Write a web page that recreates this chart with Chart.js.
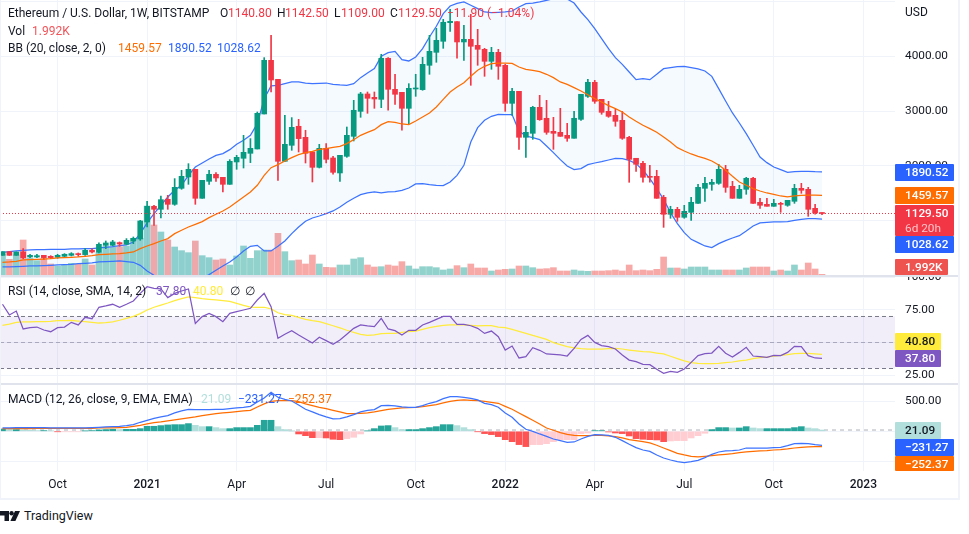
<!DOCTYPE html>
<html><head><meta charset="utf-8">
<script src="https://cdn.jsdelivr.net/npm/chart.js@4"></script>
<style>
html,body{margin:0;padding:0;background:#fff;overflow:hidden}
#wrap{position:absolute;left:0;top:0;width:969px;height:534px;font-family:Roboto,sans-serif;color:#131722}
canvas{position:absolute;left:0}
.t{position:absolute;white-space:nowrap;font-size:12px;line-height:14px;z-index:5}
.tag{position:absolute;left:895px;width:59px;font-size:11.8px;font-weight:500;color:#fff;z-index:6;box-sizing:border-box;padding-left:10px;border-radius:1px;white-space:nowrap;overflow:hidden}
.rule{position:absolute;background:#e0e3eb;z-index:4}
.frame{position:absolute;background:#f0f3fa;z-index:4}
</style></head><body>
<div id="wrap">
<canvas id="cMain" style="top:0" width="959" height="275"></canvas>
<canvas id="cRsi" style="top:277px" width="959" height="106"></canvas>
<canvas id="cMacd" style="top:385px" width="959" height="114"></canvas>

<div class="rule" style="left:0;top:275px;width:958px;height:2px"></div>
<div class="rule" style="left:0;top:383px;width:958px;height:2px"></div>
<div class="frame" style="left:0;top:498px;width:960px;height:2px"></div>
<div class="frame" style="left:958px;top:0;width:2px;height:500px"></div>
<div class="frame" style="left:0;top:0;width:1px;height:500px"></div>

<span class="t" style="left:8px;top:6px">Ethereum / U.S. Dollar, 1W, BITSTAMP</span>
<span class="t" style="left:220px;top:6px">O</span><span class="t" style="left:228px;top:6px;color:#f23645">1140.80</span>
<span class="t" style="left:277px;top:6px">H</span><span class="t" style="left:285px;top:6px;color:#f23645">1142.50</span>
<span class="t" style="left:334px;top:6px">L</span><span class="t" style="left:341px;top:6px;color:#f23645">1109.00</span>
<span class="t" style="left:390px;top:6px">C</span><span class="t" style="left:398px;top:6px;color:#f23645">1129.50</span>
<span class="t" style="left:447px;top:6px;color:#f23645">−11.90 (−1.04%)</span>
<span class="t" style="left:8px;top:24px">Vol</span><span class="t" style="left:32px;top:24px;color:#f0555a">1.992K</span>
<span class="t" style="left:8px;top:41px">BB (20, close, 2, 0)</span>
<span class="t" style="left:118px;top:41px;color:#ff6d00">1459.57</span>
<span class="t" style="left:168px;top:41px;color:#2962ff">1890.52</span>
<span class="t" style="left:217px;top:41px;color:#2962ff">1028.62</span>
<span class="t" style="left:905px;top:5px">USD</span>

<span class="t" style="left:8px;top:284px">RSI (14, close, SMA, 14, 2)</span>
<span class="t" style="left:156px;top:284px;color:#7e57c2">37.80</span>
<span class="t" style="left:193px;top:284px;color:#ffeb3b">40.80</span>
<span class="t" style="left:230px;top:284px">∅</span><span class="t" style="left:245px;top:284px">∅</span>

<span class="t" style="left:8px;top:392px">MACD (12, 26, close, 9, EMA, EMA)</span>
<span class="t" style="left:201px;top:392px;color:#b2dfdb">21.09</span>
<span class="t" style="left:238px;top:392px;color:#2962ff">−231.27</span>
<span class="t" style="left:288px;top:392px;color:#ff6d00">−252.37</span>

<div class="tag" style="top:164px;height:17px;line-height:17px;background:#2962ff">1890.52</div>
<div class="tag" style="top:187px;height:17px;line-height:17px;background:#ff6d00">1459.57</div>
<div class="tag" style="top:205px;height:31px;line-height:15px;background:#f23645;padding-top:1px">1129.50<br><span style="opacity:.7;font-weight:400">6d 20h</span></div>
<div class="tag" style="top:236px;height:17px;line-height:17px;background:#2962ff">1028.62</div>
<div class="tag" style="top:259px;height:16px;line-height:16px;background:#ef5350;width:53px">1.992K</div>
<div class="tag" style="top:333px;height:17px;line-height:17px;background:#ffeb3b;color:#131722;width:46px">40.80</div>
<div class="tag" style="top:350px;height:17px;line-height:17px;background:#7e57c2;width:46px">37.80</div>
<div class="tag" style="top:422px;height:17px;line-height:17px;background:#b2dfdb;color:#131722;width:46px">21.09</div>
<div class="tag" style="top:439px;height:17px;line-height:17px;background:#2962ff">−231.27</div>
<div class="tag" style="top:456px;height:15px;line-height:16px;background:#ff6d00">−252.37</div>

<svg style="position:absolute;left:0;top:511px" width="20" height="11" viewBox="0 0 20 11"><path d="M0 0H9V10H4.5V4.5H0Z" fill="#131722"/><circle cx="11.6" cy="2.2" r="2.2" fill="#131722"/><path d="M15 0H20L15.4 10H10.4Z" fill="#131722"/></svg>
<span class="t" style="left:24px;top:508px;font-size:12.5px;line-height:16px;color:#131722">TradingView</span>
</div>
<script>
const opens=[366,433,366,427,336,336,366,348,330,348,366,397,379,458,421,549,549,598,567,628,665,975,1261,1206,1388,1297,1589,1796,1936,1407,1717,1845,1790,1662,2070,2137,2228,2307,2946,3925,3578,2082,2374,2721,2520,2252,1972,2319,2143,1869,2173,2538,2994,3311,3250,3213,3962,3396,3341,3049,3402,3390,3834,4071,4272,4612,4631,4260,4308,4199,4126,3907,4071,3834,3140,3359,2520,2593,3067,2867,2629,2611,2556,2502,2848,3268,3524,3213,2994,2921,2830,2520,2137,2045,1808,1808,1425,1115,1206,1060,1151,1315,1589,1662,1680,1936,1626,1407,1571,1772,1334,1297,1261,1315,1279,1352,1589,1571,1224,1140.8];
const closes=[433,366,427,324,366,360,324,324,366,385,397,379,458,427,567,592,610,573,640,677,993,1261,1206,1382,1297,1607,1808,1936,1407,1735,1845,1778,1662,2082,2155,2246,2319,2958,3925,3566,2082,2392,2702,2496,2228,1972,2319,2118,1881,2191,2556,3013,3311,3232,3219,3962,3396,3305,3049,3414,3414,3852,4089,4290,4619,4637,4260,4308,4181,4126,3907,4071,3816,3140,3359,2520,2611,3067,2842,2611,2593,2538,2502,2867,3305,3524,3177,2976,2903,2812,2502,2118,2027,1790,1790,1407,1115,1206,1060,1169,1334,1607,1680,1699,1936,1607,1407,1571,1772,1315,1279,1261,1315,1297,1370,1589,1553,1206,1141,1129.5];
const highs=[433,435,430,488,385,385,366,360,385,397,415,409,488,488,592,628,640,610,671,701,1005,1352,1279,1449,1461,1766,1918,2039,1936,1735,1918,1875,1790,2112,2191,2556,2496,2982,3974,4381,3578,2921,2879,2848,2648,2252,2392,2404,2173,2191,2708,3195,3341,3347,3347,4035,3974,3670,3341,3499,3670,3980,4381,4509,4673,4856,4631,4564,4765,4491,4144,4162,4126,3852,3414,3359,2721,3086,3286,3195,2885,3049,2775,2994,3305,3578,3560,3213,3177,3031,2994,2538,2137,2082,2009,1918,1461,1261,1242,1279,1425,1662,1790,1753,2027,2009,1717,1644,1790,1790,1407,1407,1388,1334,1370,1662,1680,1607,1297,1142.5];
const lows=[366,365,365,306,324,324,287,306,312,336,354,348,366,409,409,488,537,531,561,579,640,884,914,1048,1206,1279,1571,1662,1297,1407,1662,1717,1522,1662,1936,1960,2058,2307,2946,3347,1735,2082,2283,2252,2051,1705,1960,2051,1845,1717,2155,2453,2885,2958,3049,3061,3013,3122,2648,2769,3268,3378,3670,3889,4144,4454,3962,3925,3469,3834,3633,3761,3578,2994,2921,2301,2155,2483,2830,2575,2301,2538,2447,2502,2830,3250,3140,2940,2885,2721,2483,1699,1899,1699,1699,1407,877,1042,987,1042,1005,1315,1352,1553,1662,1516,1407,1407,1480,1315,1224,1261,1261,1151,1261,1315,1498,1078,1115,1109];
const volumes=[63,47,60,105,50,43,50,33,27,30,35,33,48,30,67,87,83,85,87,110,110,207,150,129,105,84,73,67,102,58,52,45,48,30,57,87,50,73,75,75,125,70,43,45,33,60,33,23,22,30,30,48,52,30,24,25,30,27,40,27,18,25,25,22,15,18,28,22,33,21,21,12,15,17,18,27,27,22,18,19,22,12,12,15,12,11,12,12,13,15,12,30,13,15,13,17,54,21,21,18,24,24,24,15,15,15,15,15,21,24,24,24,12,15,12,30,15,36,18,1.992];
const bbUpper=[421,433,446,458,464,470,470,476,476,476,482,482,488,488,500,512,525,543,555,610,762,957,1127,1279,1431,1553,1644,1826,1978,2051,2124,2191,2222,2295,2392,2465,2556,2769,3226,3457,3469,3499,3530,3530,3511,3499,3505,3511,3487,3475,3469,3499,3609,3694,3773,3998,4065,4089,3937,3913,3986,4138,4351,4546,4777,4917,4965,4990,4929,4868,4807,4795,4801,4807,4825,4898,4959,4971,4990,5020,5050,5056,5044,4971,4807,4667,4503,4320,4138,3974,3852,3712,3572,3590,3572,3670,3773,3791,3809,3816,3791,3767,3730,3633,3408,3183,2964,2781,2587,2374,2161,2058,1978,1930,1881,1893,1899,1899,1893,1890.52];
const bbMiddle=[239,245,257,281,287,293,299,306,318,324,330,336,348,360,379,385,391,397,409,427,488,537,579,628,671,762,823,884,932,981,1054,1115,1176,1249,1340,1431,1522,1644,1826,1966,2021,2088,2149,2204,2240,2264,2301,2313,2337,2356,2404,2477,2556,2611,2660,2751,2806,2794,2763,2751,2818,2891,2964,3073,3213,3347,3438,3517,3633,3743,3816,3864,3876,3876,3870,3803,3761,3743,3718,3670,3609,3530,3487,3426,3365,3298,3226,3165,3098,3043,2982,2891,2812,2739,2678,2611,2526,2435,2331,2270,2216,2173,2137,2088,2015,1918,1808,1705,1644,1583,1540,1504,1480,1449,1431,1449,1461,1467,1467,1459.57];
const bbLower=[154,154,160,166,172,172,178,184,190,196,202,214,220,227,245,251,257,263,251,239,184,81,2,-59,-120,-151,-163,-151,-138,-59,14,93,172,245,336,446,531,549,446,446,531,628,762,884,987,1048,1084,1127,1176,1249,1334,1407,1474,1504,1522,1504,1522,1528,1553,1595,1668,1674,1656,1644,1638,1705,1826,2009,2435,2696,2830,2903,2940,2934,2934,2635,2544,2514,2477,2362,2240,2112,1997,1930,1948,2021,2051,2076,2106,2137,2131,2100,2039,1918,1766,1583,1388,1145,944,780,658,598,537,506,579,634,683,725,811,902,957,969,975,975,981,1005,1023,1035,1035,1028.62];
const rsi=[79.4,71.2,74.2,60.4,61.4,61.9,59.6,58.3,61.4,61.9,65.5,63.5,69.4,68.3,77.1,78.1,79.4,77.1,79.4,81.9,87.8,92.9,91.7,91.2,84.5,87.8,89.6,91.2,64.7,69.9,72.4,69.9,66,72.4,73.7,75,76.3,82.7,87.8,77.6,53.2,56.3,59.1,55.8,52.7,49.6,54,51.4,48.6,51.9,56.3,60.9,63.5,62.7,62.2,68.6,60.4,59.1,55.8,59.4,59.4,63.5,65.5,67.8,70.1,70.1,64,64,62.9,60.9,57,58.8,54.5,44.2,47.3,38.1,39.1,46,44,41.2,40.9,40.4,39.6,45.5,52.4,55.5,50.1,47.6,46.8,45,40.4,36.5,35.3,33.2,32.9,29.4,26.3,27.8,27.1,29.6,34.7,39.9,41.4,41.9,47.1,41.7,38.8,42.4,46.3,39.6,39.1,38.6,40.1,39.9,42.4,47.1,46.8,39.9,38.1,37.8];
const rsiMa=[63.2,64.2,65.5,65.8,65.8,66,66,66.3,66.8,66.8,67.1,66.5,66,65.5,65,65.3,65.8,67.1,68.6,70.1,72.2,75,77.1,78.8,80.4,82.2,83.7,85,84.5,83.7,83.2,82.7,82.2,81.7,80.1,78.6,77.3,77.1,77.1,75.8,72.9,71.4,70.9,69.4,67.8,66.8,66,64.5,62.9,61.2,59.4,57.8,56.3,55.5,55.8,56.8,57,57,57.8,58.3,58.8,60.1,61.4,62.4,63.2,63.5,63.5,63.5,63.2,62.7,63,63,61.9,61.4,60.1,58.6,57,55.5,54,52.4,49.9,48.3,46.8,45.8,45.3,45,45,45,45.3,45.5,45,44.2,43.5,42.9,42.7,41.9,41.2,39.4,37.6,35.8,34.5,34,33.7,33.7,34,34.5,35,35.8,36.5,37.6,38.3,38.8,39.6,40.1,40.6,41.4,41.7,41.7,41.2,40.8];
const macdLine=[55,55,61,61,61,61,61,55,55,55,55,55,55,61,66,72,77,83,94,110,149,182,215,237,259,303,336,364,358,358,358,364,364,375,386,397,413,485,551,645,562,529,501,435,364,320,276,237,204,209,237,276,320,347,358,424,430,419,402,397,397,424,463,490,540,573,573,562,545,518,463,441,397,303,231,121,33,0,-44,-83,-127,-154,-182,-176,-127,-83,-55,-61,-66,-99,-154,-215,-270,-309,-331,-391,-441,-474,-501,-518,-501,-479,-435,-380,-342,-325,-320,-309,-276,-276,-276,-276,-270,-264,-237,-204,-198,-204,-222,-231.27];
const signalLine=[44,44,44,44,44,50,50,50,50,50,50,50,50,50,55,55,55,61,66,83,99,121,143,154,171,187,204,220,237,259,276,292,303,314,325,336,347,402,452,496,507,507,507,490,452,424,397,375,347,320,292,292,298,303,320,342,364,375,386,391,397,408,424,441,468,496,512,518,512,507,496,479,463,413,364,303,242,182,121,55,17,-22,-50,-66,-72,-72,-66,-66,-77,-88,-110,-138,-154,-171,-193,-231,-276,-320,-364,-391,-413,-424,-413,-402,-391,-380,-369,-353,-342,-331,-325,-320,-309,-303,-292,-276,-264,-258,-255,-252.37];
const macdHist=[39,28,28,22,16,11,11,6,-6,-6,-6,-6,6,11,22,28,33,28,33,33,44,83,83,94,105,110,110,127,99,77,77,61,44,44,61,61,61,99,182,182,77,28,3,-44,-72,-105,-105,-110,-132,-138,-121,-99,-44,6,44,88,94,61,28,28,28,44,61,77,110,110,94,61,28,-6,-38,-55,-88,-138,-171,-220,-253,-220,-220,-204,-171,-138,-138,-138,-38,-28,11,11,-11,-28,-38,-77,-121,-132,-138,-143,-171,-160,-154,-154,-110,-72,-33,28,61,61,55,55,77,55,44,44,44,44,44,61,77,55,44,21.09];
const tickBars=[8,21,34,47,60,73,86,99,112,125];
const tickLabels=['Oct','2021','Apr','Jul','Oct','2022','Apr','Jul','Oct','2023'];
const priceTicks=[5000,4000,3000,2000,1000];
const rsiTicks=[100,75,50,25];
const macdTicks=[500,0,-500];
const lastPrice=1129.5, histLast=21.09, rsiLevels=[70,50,30];

const XMIN=-0.363, XMAX=129.6;
const UP='#089981', DOWN='#f23645', GRID='#f0f3fa';
const BLUE='#3d73ff', LW=1.25;
const idx=opens.map((_,i)=>i);
const pts=a=>a.map((y,i)=>({x:i,y}));
const span=y=>[{x:XMIN,y},{x:XMAX,y}];
const isUp=i=>closes[i]>=opens[i];
const axisFont={family:'Roboto',size:11.8};

function xAxis(showLabels){
  return {type:'linear',min:XMIN,max:XMAX,display:true,offset:false,
    grid:{color:GRID,drawTicks:false,offset:false},border:{display:false},
    afterBuildTicks:s=>{s.ticks=tickBars.map(v=>({value:v}));},
    afterFit:s=>{s.paddingLeft=s.paddingRight=s.paddingTop=s.paddingBottom=0;s.height=showLabels?28:0;},
    ticks:{display:showLabels,autoSkip:false,maxRotation:0,padding:7,color:'#131722',
      font:c=>({family:'Roboto',size:12,weight:/^20/.test(tickLabels[c.index]||'')?'500':'400'}),
      callback:(v,i)=>tickLabels[i]}};
}
function yAxis(min,max,values){
  return {position:'right',min,max,
    grid:{color:GRID,drawTicks:false},border:{display:false},
    afterBuildTicks:s=>{s.ticks=values.map(v=>({value:v}));},
    afterFit:s=>{s.width=64;s.paddingTop=s.paddingBottom=0;},
    ticks:{autoSkip:false,padding:10,color:'#131722',font:axisFont,
      callback:v=>v>=5000?'':v.toFixed(2)}};
}
function line(data,color,order,extra){
  return Object.assign({type:'line',data,borderColor:color,borderWidth:LW,pointRadius:0,tension:0,fill:false,order},extra||{});
}
const base={responsive:false,animation:false,events:[],
  layout:{padding:0},plugins:{legend:{display:false},tooltip:{enabled:false}}};

new Chart(document.getElementById('cMain'),{type:'bar',
  data:{datasets:[
    {type:'bar',yAxisID:'yVol',data:idx.map(i=>({x:i,y:volumes[i]})),barThickness:6,grouped:false,
      backgroundColor:idx.map(i=>isUp(i)?'rgba(38,166,154,.5)':'rgba(239,83,80,.5)'),order:10},
    line(pts(bbUpper),BLUE,5,{fill:{target:2},backgroundColor:'rgba(33,150,243,.05)'}),
    line(pts(bbLower),BLUE,5),
    {type:'bar',data:idx.map(i=>({x:i,y:[lows[i],highs[i]]})),barThickness:1,grouped:false,
      backgroundColor:idx.map(i=>isUp(i)?UP:DOWN),order:4},
    {type:'bar',data:idx.map(i=>({x:i,y:[Math.min(opens[i],closes[i]),Math.max(opens[i],closes[i])]})),barThickness:5,grouped:false,minBarLength:1,
      backgroundColor:idx.map(i=>isUp(i)?UP:DOWN),order:3},
    line(pts(bbMiddle),'#ff6d00',2),
    line(span(lastPrice),DOWN,1,{borderDash:[1,2],borderWidth:1})
  ]},
  options:Object.assign({},base,{scales:{x:xAxis(false),y:yAxis(7.1,5025.85,priceTicks),
    yVol:{display:false,min:0,max:825}}})
});

new Chart(document.getElementById('cRsi'),{type:'line',
  data:{datasets:[
    line(span(rsiLevels[0]),'#787b86',4,{borderWidth:1,borderDash:[4,3],fill:{target:2},backgroundColor:'rgba(126,87,194,.1)'}),
    line(span(rsiLevels[1]),'rgba(120,123,134,.55)',4,{borderWidth:1,borderDash:[4,3]}),
    line(span(rsiLevels[2]),'#787b86',4,{borderWidth:1,borderDash:[4,3]}),
    line(pts(rsiMa),'#ffeb3b',3),
    line(pts(rsi),'#7e57c2',2)
  ]},
  options:Object.assign({},base,{scales:{x:xAxis(false),y:yAxis(18.85,100.38,rsiTicks)}})
});

new Chart(document.getElementById('cMacd'),{type:'bar',
  data:{datasets:[
    line(span(histLast),'rgba(120,123,134,.6)',6,{borderWidth:1,borderDash:[4,4]}),
    {type:'bar',data:idx.map(i=>({x:i,y:macdHist[i]})),barThickness:6,grouped:false,order:5,
      backgroundColor:idx.map(i=>{const v=macdHist[i],p=i?macdHist[i-1]:v;
        return v>=0?(v>=p?'#26a69a':'#b2dfdb'):(v<p?'#ff5252':'#ffcdd2');})},
    line(pts(signalLine),'#ff6d00',3),
    line(pts(macdLine),BLUE,2)
  ]},
  options:Object.assign({},base,{scales:{x:xAxis(true),y:yAxis(-656,765,macdTicks)}})
});
</script>
</body></html>
